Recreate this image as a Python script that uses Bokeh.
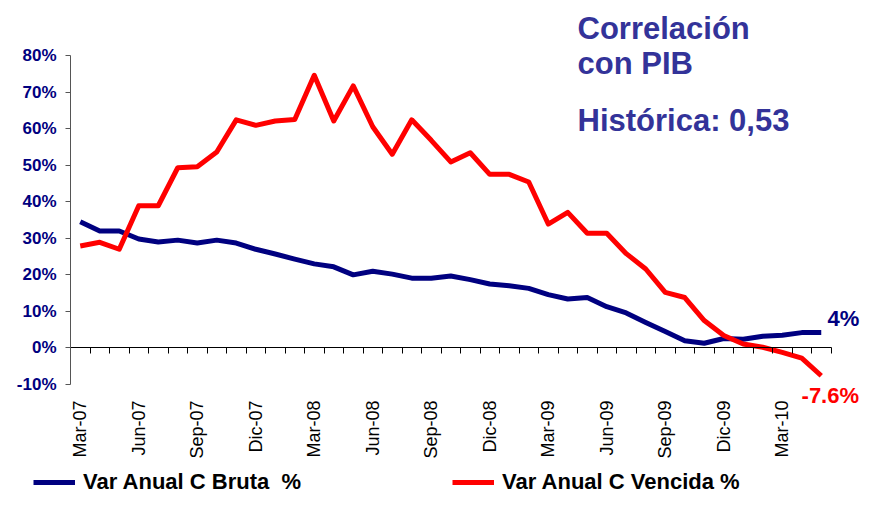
import math
from bokeh.plotting import figure
from bokeh.models import (Range1d, LinearAxis, FixedTicker, Label, Legend,
                          LegendItem, ColumnDataSource)
from bokeh.embed import file_html
from bokeh.resources import INLINE

# ---- data -------------------------------------------------------------
months = ["Mar-07", "Abr-07", "May-07", "Jun-07", "Jul-07", "Ago-07", "Sep-07",
          "Oct-07", "Nov-07", "Dic-07", "Ene-08", "Feb-08", "Mar-08", "Abr-08",
          "May-08", "Jun-08", "Jul-08", "Ago-08", "Sep-08", "Oct-08", "Nov-08",
          "Dic-08", "Ene-09", "Feb-09", "Mar-09", "Abr-09", "May-09", "Jun-09",
          "Jul-09", "Ago-09", "Sep-09", "Oct-09", "Nov-09", "Dic-09", "Ene-10",
          "Feb-10", "Mar-10", "Abr-10", "May-10"]

bruta = [34.5, 32.0, 32.0, 29.8, 29.0, 29.5, 28.7, 29.5, 28.7, 27.0,
         25.7, 24.3, 23.0, 22.2, 20.0, 21.0, 20.2, 19.1, 19.1, 19.7,
         18.7, 17.5, 17.0, 16.3, 14.6, 13.4, 13.8, 11.3, 9.6, 7.0,
         4.5, 2.0, 1.3, 2.6, 2.4, 3.2, 3.5, 4.2, 4.2]

vencida = [27.9, 28.9, 27.0, 38.9, 38.9, 49.3, 49.6, 53.6, 62.4, 60.9,
           62.1, 62.5, 74.6, 62.1, 71.7, 60.5, 53.0, 62.4, 56.8, 50.9,
           53.4, 47.5, 47.5, 45.4, 33.9, 37.1, 31.4, 31.4, 25.8, 21.6,
           15.2, 13.8, 7.5, 3.4, 1.1, 0.2, -1.2, -2.8, -7.6]

tick_labels = ["Mar-07", "Jun-07", "Sep-07", "Dic-07", "Mar-08", "Jun-08",
               "Sep-08", "Dic-08", "Mar-09", "Jun-09", "Sep-09", "Dic-09",
               "Mar-10"]
y_ticks = [-10, 0, 10, 20, 30, 40, 50, 60, 70, 80]
series_names = ["Var Anual C Bruta  %", "Var Anual C Vencida %"]
title_lines = ["Correlación", "con PIB", "Histórica: 0,53"]
end_labels = ["4%", "-7.6%"]

# ---- geometry (pixels) --------------------------------------------------
W, H = 861, 496
AX_LEFT = 70          # pixel position of the y axis line
AX_TOP = 55           # pixel position of the 80% tick
PX_PER_CAT = 19.5
PX_PER_PCT = 3.656
Y_MIN, Y_MAX = -10, 80

n = len(months)
x_start = -0.5 - AX_LEFT / PX_PER_CAT
x_end = x_start + W / PX_PER_CAT
y_end = Y_MAX + AX_TOP / PX_PER_PCT
y_start = y_end - H / PX_PER_PCT

xs = list(range(n))
src = ColumnDataSource(dict(x=xs, bruta=bruta, vencida=vencida))

p = figure(width=W, height=H, output_backend="svg", toolbar_location=None,
           x_range=Range1d(x_start, x_end), y_range=Range1d(y_start, y_end),
           x_axis_type=None, y_axis_type=None,
           min_border=0, min_border_left=0, min_border_right=0,
           min_border_top=0, min_border_bottom=0)
p.outline_line_color = None
p.background_fill_color = "white"
p.border_fill_color = "white"

NAVY = "#000080"
RED = "#FF0000"
TITLE = "#333399"
FONT = "Liberation Sans"

# y axis
yaxis = LinearAxis(ticker=FixedTicker(ticks=y_ticks), bounds=(Y_MIN, Y_MAX),
                   fixed_location=-0.5)
yaxis.major_label_overrides = {v: f"{v}%" for v in y_ticks}
yaxis.major_label_text_font = FONT
yaxis.major_label_text_font_style = "bold"
yaxis.major_label_text_font_size = "17px"
yaxis.major_label_text_color = NAVY
yaxis.major_label_standoff = 9
yaxis.major_tick_out = 5
yaxis.major_tick_in = 0
yaxis.minor_tick_line_color = None
yaxis.axis_line_color = "#555555"
yaxis.major_tick_line_color = "#555555"
p.add_layout(yaxis, "left")

# zero line axis with category boundary ticks
zaxis = LinearAxis(ticker=FixedTicker(ticks=[i - 0.5 for i in range(n + 1)]),
                   fixed_location=0, bounds=(-0.5, n - 0.5))
zaxis.major_label_text_font_size = "0px"
zaxis.major_label_text_color = None
zaxis.major_tick_in = 0
zaxis.major_tick_out = 6
zaxis.minor_tick_line_color = None
zaxis.axis_line_color = "black"
zaxis.major_tick_line_color = "black"
p.add_layout(zaxis, "below")

# label axis at the bottom of the plot area
tick_pos = [months.index(t) for t in tick_labels]
laxis = LinearAxis(ticker=FixedTicker(ticks=tick_pos), fixed_location=Y_MIN)
laxis.major_label_overrides = {pos: lbl for pos, lbl in zip(tick_pos, tick_labels)}
laxis.axis_line_color = None
laxis.major_tick_line_color = None
laxis.minor_tick_line_color = None
laxis.major_tick_out = 0
laxis.major_tick_in = 0
laxis.major_label_orientation = math.pi / 2
laxis.major_label_standoff = 16
laxis.major_label_text_font = FONT
laxis.major_label_text_font_size = "18px"
laxis.major_label_text_color = "black"
p.add_layout(laxis, "below")

# lines
r1 = p.line("x", "bruta", source=src, line_color=NAVY, line_width=5,
            line_join="round")
r2 = p.line("x", "vencida", source=src, line_color=RED, line_width=5,
            line_join="round")

# legends
def make_legend(name, rend, loc):
    lg = Legend(items=[LegendItem(label=name, renderers=[rend])], location=loc)
    lg.border_line_color = None
    lg.background_fill_alpha = 0
    lg.padding = 0
    lg.margin = 0
    lg.spacing = 0
    lg.glyph_width = 42
    lg.glyph_height = 16
    lg.label_height = 16
    lg.label_standoff = 8
    lg.label_text_font = FONT
    lg.label_text_font_style = "bold"
    lg.label_text_font_size = "22px"
    lg.label_text_color = "black"
    return lg

p.add_layout(make_legend(series_names[0], r1, (33, 1)))
p.add_layout(make_legend(series_names[1], r2, (452, 1)))

# annotations
for txt, yv in zip(title_lines, [87.5, 77.8, 62.1]):
    p.add_layout(Label(x=25.5, y=yv, text=txt, text_font=FONT,
                       text_font_style="bold", text_font_size="31px",
                       text_color=TITLE, text_baseline="alphabetic"))

p.add_layout(Label(x=38.32, y=8.2, text=end_labels[0], text_font=FONT,
                   text_font_style="bold", text_font_size="22px",
                   text_color=NAVY, text_baseline="alphabetic"))
p.add_layout(Label(x=36.99, y=-12.9, text=end_labels[1], text_font=FONT,
                   text_font_style="bold", text_font_size="22px",
                   text_color=RED, text_baseline="alphabetic"))

open("out.html", "w").write(file_html(p, INLINE))
